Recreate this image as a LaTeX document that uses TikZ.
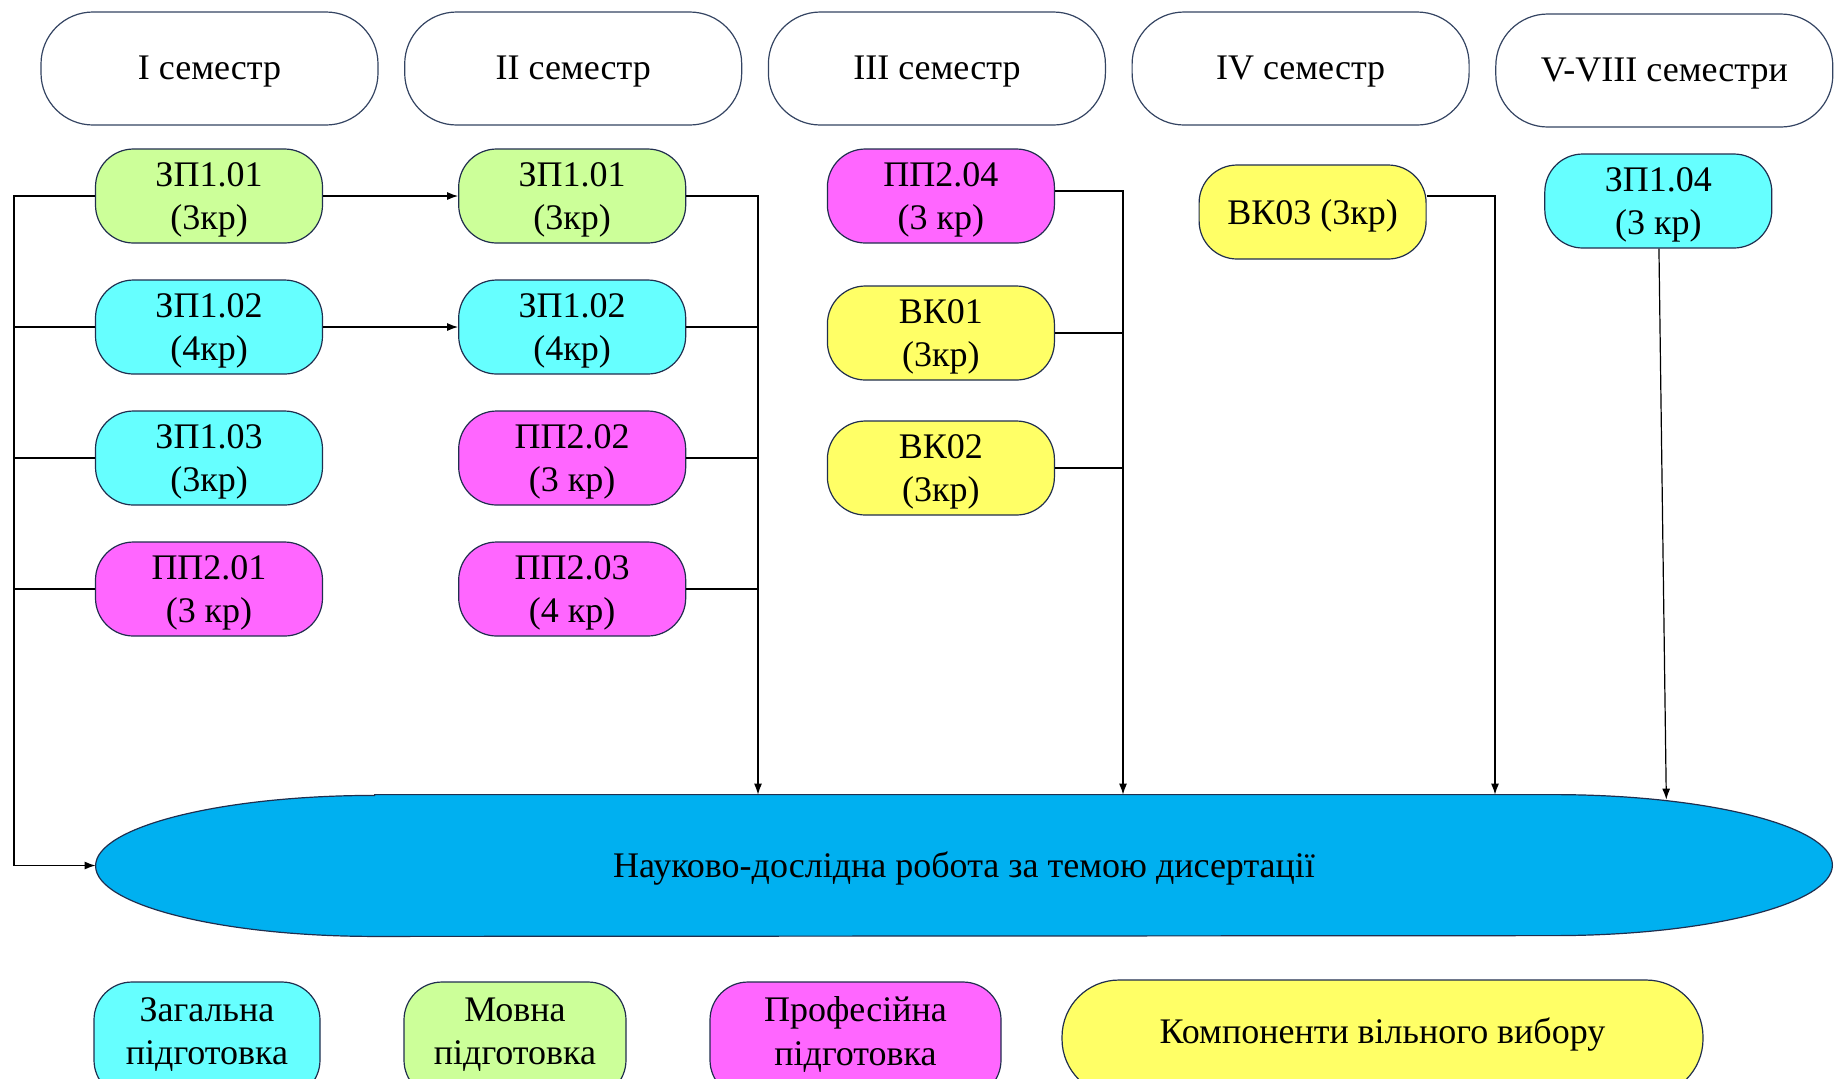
\documentclass[tikz,border=0pt]{standalone}
\usepackage{fontspec}
\setmainfont{Liberation Serif}
\usepackage{tikz}
\usetikzlibrary{positioning, arrows.meta, backgrounds}

\definecolor{zagcol}{RGB}{102,255,255}
\definecolor{movcol}{RGB}{204,255,153}
\definecolor{profcol}{RGB}{255,102,255}
\definecolor{vkcol}{RGB}{255,255,102}
\definecolor{nircol}{RGB}{0,176,240}
\definecolor{rimcol}{RGB}{32,46,78}
\definecolor{headrim}{RGB}{52,68,98}

\begin{document}
\begin{tikzpicture}[x=0.5pt, y=-0.5pt, node distance=65.5pt]
    % Styles
    \tikzset{
        semhead/.style = {rectangle, draw=headrim, line width=0.6pt, fill=white, rounded corners=26pt, minimum width=168.5pt, minimum height=56.5pt, text depth=0.5pt, font=\fontsize{18}{21.6}\selectfont},
        course/.style  = {rectangle, draw=rimcol, line width=0.6pt, rounded corners=19pt, minimum width=113.5pt, minimum height=47pt, inner sep=1pt, align=center, text depth=-2pt, font=\fontsize{18}{21.6}\selectfont},
        legend/.style  = {course, minimum height=58pt, text depth=9pt},
        line/.style    = {draw, line width=0.6pt, -{Latex[length=5.5pt, width=4pt]}}
    }
    \useasboundingbox (0,0) rectangle (1834,1078);

    % Semestri
    \node [semhead] (sem1) at (209.5,68.5) {I семестр};
    \node [semhead, right=12.75pt of sem1] (sem2) {II семестр};
    \node [semhead, right=12.75pt of sem2] (sem3) {III семестр};
    \node [semhead, right=12.75pt of sem3] (sem4) {IV семестр};
    \node [semhead, right=12.75pt of sem4, yshift=-1pt] (sem5) {V-VIII семестри};

    % I semestr
    \node [course, fill=movcol] (c1r1) at (209,196) {ЗП1.01\\(3кр)};
    \node [course, fill=zagcol, below of=c1r1] (c1r2) {ЗП1.02\\(4кр)};
    \node [course, fill=zagcol, below of=c1r2] (c1r3) {ЗП1.03\\(3кр)};
    \node [course, fill=profcol, below of=c1r3] (c1r4) {ПП2.01\\(3 кр)};

    % II semestr
    \node [course, fill=movcol, right=67.5pt of c1r1] (c2r1) {ЗП1.01\\(3кр)};
    \node [course, fill=zagcol, below of=c2r1] (c2r2) {ЗП1.02\\(4кр)};
    \node [course, fill=profcol, below of=c2r2] (c2r3) {ПП2.02\\(3 кр)};
    \node [course, fill=profcol, below of=c2r3] (c2r4) {ПП2.03\\(4 кр)};

    % III semestr
    \node [course, fill=profcol, right=70.25pt of c2r1] (c3r1) {ПП2.04\\(3 кр)};
    \node [course, fill=vkcol, below of=c3r1, yshift=-3pt] (c3r2) {ВК01\\(3кр)};
    \node [course, fill=vkcol, below of=c3r2, yshift=-2pt] (c3r3) {ВК02\\(3кр)};

    % IV i V-VIII semestry
    \node [course, fill=vkcol, right=71.75pt of c3r1, yshift=-8pt] (c4) {ВК03 (3кр)};
    \node [course, fill=zagcol, right=58.75pt of c4, yshift=5.5pt] (c5) {ЗП1.04\\(3 кр)};

    % Naukova robota
    \node [minimum width=868pt, minimum height=70.5pt, text depth=0.5pt, font=\fontsize{18}{21.6}\selectfont] (nir) at (964,865.5) {Науково-дослідна робота за темою дисертації};
    \begin{scope}[on background layer]
        \draw [fill=nircol, draw=rimcol, line width=0.6pt] ([xshift=139.5pt]nir.north west) -- ([xshift=-139.5pt]nir.north east)
            arc [start angle=90, end angle=-90, x radius=139.5pt, y radius=35.25pt] -- ([xshift=139.5pt]nir.south west)
            arc [start angle=270, end angle=90, x radius=139.5pt, y radius=35.25pt] -- cycle;
    \end{scope}

    % Legenda
    \node [legend, fill=zagcol, minimum width=113pt] (lzag) at (207,1040) {Загальна\\підготовка};
    \node [legend, fill=movcol, minimum width=111pt] (lmov) at (515,1040) {Мовна\\підготовка};
    \node [legend, fill=profcol, minimum width=145.5pt] (lprof) at (855.5,1040) {Професійна\\підготовка};
    \node [course, fill=vkcol, minimum width=320.5pt, minimum height=58pt, rounded corners=28.5pt, text depth=7.5pt] (lvk) at (1382.5,1038) {Компоненти вільного вибору};

    % Shyny
    \coordinate (lbus) at (14,0);
    \coordinate (bus2) at (758,0);
    \coordinate (bus3) at (1123,0);
    \coordinate (bus4) at (1495,0);

    % Zjednannja
    \path [line] (c1r1.west) -- (c1r1.west -| lbus) |- (nir.west);
    \draw [line width=0.6pt] (c1r2.west) -- (c1r2.west -| lbus);
    \draw [line width=0.6pt] (c1r3.west) -- (c1r3.west -| lbus);
    \draw [line width=0.6pt] (c1r4.west) -- (c1r4.west -| lbus);
    \path [line] (c1r1) -- (c2r1);
    \path [line] (c1r2) -- (c2r2);
    \path [line] (c2r1.east) -| (bus2 |- nir.north);
    \draw [line width=0.6pt] (c2r2.east) -- (c2r2.east -| bus2);
    \draw [line width=0.6pt] (c2r3.east) -- (c2r3.east -| bus2);
    \draw [line width=0.6pt] (c2r4.east) -- (c2r4.east -| bus2);
    \path [line] ([yshift=2.5pt]c3r1.east) -| (bus3 |- nir.north);
    \draw [line width=0.6pt] (c3r2.east) -- (c3r2.east -| bus3);
    \draw [line width=0.6pt] (c3r3.east) -- (c3r3.east -| bus3);
    \path [line] ([yshift=8pt]c4.east) -| (bus4 |- nir.north);
    \path [line] (c5) -- ([xshift=4pt, yshift=-2.5pt]c5 |- nir.north);
\end{tikzpicture}
\end{document}
